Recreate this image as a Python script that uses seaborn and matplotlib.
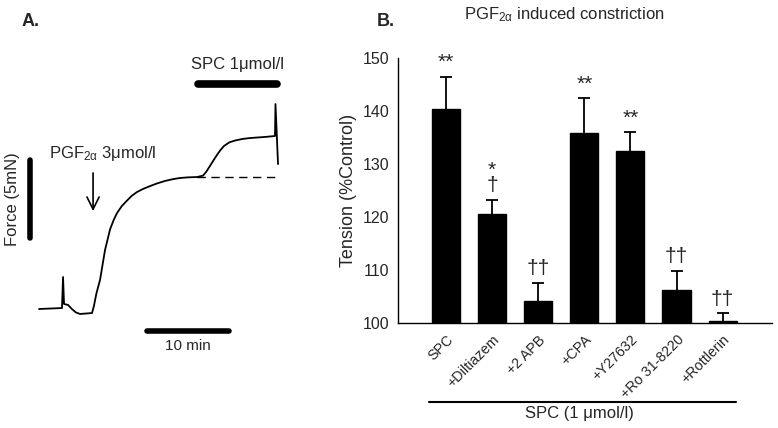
import matplotlib
matplotlib.use("Agg")
import matplotlib.pyplot as plt
import seaborn as sns
import numpy as np
import pandas as pd

# ---- Panel A data (force trace) ----
time_min = [0.0, 2.8, 2.93, 3.05, 3.54, 4.0, 4.5, 5.0, 6.46, 6.7, 7.0, 7.44, 8.05, 8.66, 9.1, 9.51,
            10.1, 10.73, 11.3, 11.95, 12.7, 13.54, 14.4, 15.37, 16.3, 17.2, 18.2, 19.27, 20.0,
            20.4, 20.85, 21.3, 21.7, 22.1, 22.56, 23.2, 23.9, 24.8, 25.73, 27.56, 28.78, 28.84,
            29.15]
force_mN = [0.0, 0.06, 2.05, 0.32, 0.26, 0.0, -0.22, -0.32, -0.26, 0.2, 1.0, 1.86, 3.78, 5.1,
            5.7, 6.15, 6.6, 6.95, 7.25, 7.5, 7.7, 7.88, 8.05, 8.21, 8.32, 8.4, 8.44, 8.46, 8.55,
            8.8, 9.17, 9.55, 9.87, 10.17, 10.45, 10.68, 10.8, 10.9, 10.96, 11.03, 11.09, 13.14,
            9.29]

# ---- Panel B data ----
categories = ["SPC", "+Diltiazem", "+2 APB", "+CPA", "+Y27632", "+Ro 31-8220", "+Rottlerin"]
tension = [140.3, 120.6, 104.1, 135.8, 132.5, 106.3, 100.4]
sem = [6.2, 2.7, 3.5, 6.7, 3.5, 3.6, 1.4]
sig_labels = ["**", "*\n\u2020", "\u2020\u2020", "**", "**", "\u2020\u2020", "\u2020\u2020"]

sns.set_style("white")
plt.rcParams["font.family"] = ["Liberation Sans", "DejaVu Sans"]
plt.rcParams["mathtext.fontset"] = "custom"
plt.rcParams["mathtext.rm"] = "Liberation Sans"
plt.rcParams["mathtext.it"] = "Liberation Sans"
plt.rcParams["mathtext.default"] = "regular"

W, H = 778, 428
fig = plt.figure(figsize=(W / 100, H / 100), dpi=100)
fig.patch.set_facecolor("white")

# ---------------- Panel A ----------------
axA = fig.add_axes([0, 0, 320 / W, 1])
dfA = pd.DataFrame({"t": time_min, "f": force_mN})
sns.lineplot(data=dfA, x="t", y="f", ax=axA, color="black", linewidth=1.3)
axA.set_xlim(-4.76, 34.27)
axA.set_ylim(-7.63, 19.81)
axA.axis("off")
# dashed reference line
axA.plot([19.3, 29.15], [8.46, 8.46], color="black", lw=1, dashes=(6, 4))
# SPC bar
axA.plot([19.4, 29.0], [14.42, 14.42], color="black", lw=5.5, solid_capstyle="round")
axA.text(24.2, 15.7, "SPC 1\u03bcmol/l", ha="center", va="center", fontsize=12)
# PGF arrow and label
axA.annotate("", xy=(6.59, 6.1), xytext=(6.59, 8.9),
             arrowprops=dict(arrowstyle="->", color="black", lw=1.2, mutation_scale=22))
axA.text(1.2, 10.0, "PGF$_{2\u03b1}$ 3\u03bcmol/l", ha="left", va="center", fontsize=12)
# Force scale bar
axA.plot([-1.1, -1.1], [4.55, 9.55], color="black", lw=4)
axA.text(-3.2, 7.05, "Force (5mN)", rotation=90, ha="center", va="center", fontsize=12)
# Time scale bar
axA.plot([13.17, 23.17], [-1.41, -1.41], color="black", lw=4)
axA.text(18.17, -2.4, "10 min", ha="center", va="center", fontsize=11)
fig.text(22 / W, 1 - 22 / H, "A.", fontsize=13, fontweight="bold", ha="left", va="center")

# ---------------- Panel B ----------------
left, right, bottom, top = 398, 772, 323, 58
axB = fig.add_axes([left / W, 1 - bottom / H, (right - left) / W, (bottom - top) / H])
dfB = pd.DataFrame({"cat": categories, "val": tension})
sns.barplot(data=dfB, x="cat", y="val", ax=axB, color="black", saturation=1,
            width=0.61, errorbar=None, edgecolor="black")
xs = np.arange(len(categories))
tops = np.array(tension) + np.array(sem)
axB.vlines(xs, tension, tops, color="black", lw=1.3)
axB.plot(xs, tops, linestyle="none", marker="_", markersize=9, mew=1.3, color="black")
axB.set_ylim(100, 150)
axB.set_xlim(-1.04, 7.07)
axB.set_yticks([100, 110, 120, 130, 140, 150])
sns.despine(ax=axB)
for s in ["left", "bottom"]:
    axB.spines[s].set_color("black")
    axB.spines[s].set_linewidth(1)
axB.tick_params(axis="y", direction="out", length=4, width=1, color="black", labelsize=11.5, pad=2)
axB.tick_params(axis="x", direction="out", length=4, width=1, color="black", labelsize=10.3, pad=3)
axB.set_xticks(xs)
axB.set_xticklabels(categories, rotation=45, ha="right", rotation_mode="anchor")
axB.set_xlabel("")
axB.set_ylabel("Tension (%Control)", fontsize=13, labelpad=4)
for x, t, lab in zip(xs, tops, sig_labels):
    axB.text(x, t + 0.8, lab, ha="center", va="bottom", fontsize=15, linespacing=0.75)
# SPC underline and label
axB.plot([-0.37, 6.28], [85.1, 85.1], color="black", lw=1.5, clip_on=False)
axB.text(2.9, 83.0, "SPC (1 \u03bcmol/l)", ha="center", va="center", fontsize=12)
fig.text(564 / W, 1 - 15 / H, "PGF$_{2\u03b1}$ induced constriction", ha="center", va="center", fontsize=12)
fig.text(377 / W, 1 - 22 / H, "B.", fontsize=13, fontweight="bold", ha="left", va="center")

fig.savefig("out.png", dpi=100, facecolor="white")
